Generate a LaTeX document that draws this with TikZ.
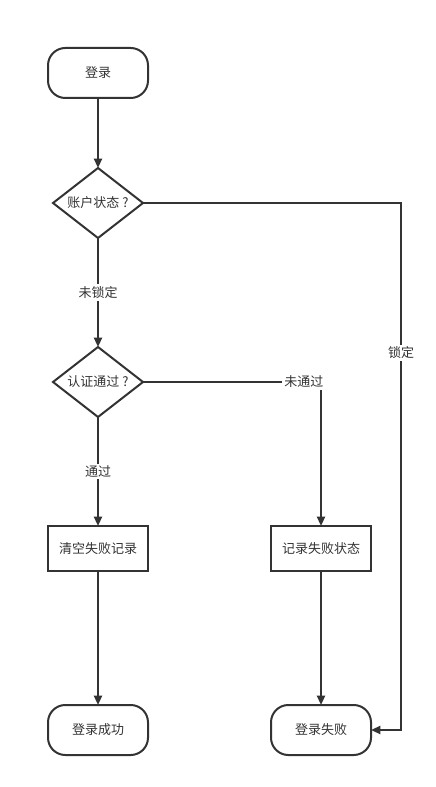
\documentclass[tikz,border=0pt]{standalone}
\usepackage{fontspec}
\setmainfont{Noto Sans CJK SC}
\usetikzlibrary{shapes.geometric,positioning,arrows.meta}
\definecolor{ink}{HTML}{333333}

\begin{document}
\begin{tikzpicture}[x=0.75pt, y=-0.75pt,
	every node/.style = {text=ink, font=\fontsize{9.75}{12}\selectfont},
	term/.style = {draw=ink, line width=1.5pt, outer sep=0pt, rounded corners=13pt, minimum width=75pt, minimum height=37.5pt},
	box/.style = {draw=ink, line width=1.5pt, outer sep=0pt, minimum width=75pt, minimum height=33.75pt},
	test/.style = {draw=ink, line width=1.5pt, outer sep=0pt, diamond, aspect=1.29, inner sep=0pt, minimum width=67.5pt, minimum height=52.5pt},
	flow/.style = {draw=ink, line width=1.5pt, -{Triangle[length=7pt,width=6pt]}},
	tag/.style = {fill=white, inner sep=1.5pt}]
	\useasboundingbox (0,0) rectangle (435,787);
	\node[term] (start) at (98,73) {登录};
	\node[test] (acct) [below=52.5pt of start] {账户状态 ?};
	\node[test] (auth) [below=81.75pt of acct] {认证通过 ?};
	\node[box] (clear) [below=81.75pt of auth] {清空失败记录};
	\node[box] (rec) [right=92.25pt of clear] {记录失败状态};
	\node[term] (ok) [below=100.5pt of clear] {登录成功};
	\node[term] (fail) [below=100.5pt of rec] {登录失败};
	\coordinate (lock) at (401,203);
	\draw[flow] (start) -- (acct);
	\draw[flow] (acct) -- node[tag] {未锁定} (auth);
	\draw[flow] (auth) -- node[tag] {通过} (clear);
	\draw[flow] (auth.east) -| node[tag, pos=0.452] {未通过} (rec.north);
	\draw[flow] (acct.east) -- (lock) |- node[tag, pos=0.142] {锁定} (fail.east);
	\draw[flow] (clear) -- (ok);
	\draw[flow] (rec) -- (fail);
\end{tikzpicture}
\end{document}
